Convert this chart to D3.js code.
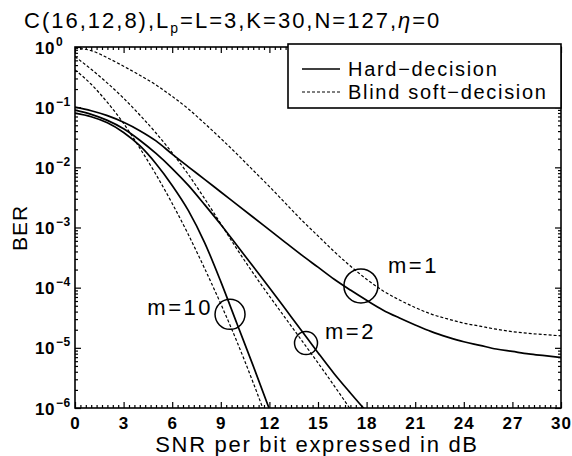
<!DOCTYPE html>
<html>
<head>
<meta charset="utf-8">
<script src="https://cdn.jsdelivr.net/npm/d3@7"></script>
<style>
  body { margin: 0; background: #fff; }
  svg { display: block; font-family: "Liberation Sans", Arial, sans-serif; }
</style>
</head>
<body>
<svg></svg>
<script>
var width = 572, height = 456;

// SNR per bit (dB)
var snr = d3.range(0, 31);

// BER
var hardM1 = [1.0e-1, 8.71e-2, 7.24e-2, 5.62e-2, 4.07e-2, 2.75e-2, 1.66e-2, 1.02e-2, 6.31e-3, 3.89e-3,
  2.40e-3, 1.48e-3, 9.12e-4, 5.62e-4, 3.47e-4, 2.19e-4, 1.38e-4, 9.12e-5, 6.17e-5, 4.27e-5,
  3.16e-5, 2.40e-5, 1.86e-5, 1.51e-5, 1.26e-5, 1.10e-5, 9.55e-6, 8.71e-6, 7.94e-6, 7.41e-6, 6.92e-6];
var softM1 = [0.955, 0.871, 0.661, 0.479, 0.339, 0.234, 0.151, 9.33e-2, 5.37e-2, 3.02e-2,
  1.66e-2, 8.91e-3, 4.79e-3, 2.51e-3, 1.32e-3, 7.24e-4, 3.98e-4, 2.29e-4, 1.38e-4, 8.91e-5,
  6.31e-5, 4.68e-5, 3.63e-5, 3.02e-5, 2.57e-5, 2.29e-5, 2.04e-5, 1.86e-5, 1.74e-5, 1.66e-5, 1.58e-5];
var hardM2 = [8.91e-2, 7.59e-2, 6.03e-2, 4.37e-2, 2.82e-2, 1.70e-2, 9.55e-3, 5.01e-3, 2.40e-3, 1.12e-3,
  5.01e-4, 2.24e-4, 1.0e-4, 4.37e-5, 1.91e-5, 8.32e-6, 3.72e-6, 1.78e-6, 8.71e-7];
var softM2 = [0.692, 0.427, 0.251, 0.141, 7.41e-2, 3.72e-2, 1.74e-2, 7.59e-3, 3.02e-3, 1.15e-3,
  4.37e-4, 1.74e-4, 7.24e-5, 3.09e-5, 1.32e-5, 5.62e-6, 2.34e-6, 9.55e-7];
var hardM10 = [7.94e-2, 6.92e-2, 5.50e-2, 3.80e-2, 2.29e-2, 1.15e-2, 5.01e-3, 1.91e-3, 5.62e-4, 1.26e-4,
  2.51e-5, 5.01e-6, 9.55e-7, 1.78e-7];
var softM10 = [0.417, 0.240, 0.120, 5.37e-2, 2.09e-2, 7.59e-3, 2.51e-3, 7.59e-4, 2.09e-4, 5.37e-5,
  1.26e-5, 2.63e-6, 5.01e-7];

var curves = [
  {name: "hard m=1", dashed: false, ber: hardM1},
  {name: "soft m=1", dashed: true, ber: softM1},
  {name: "hard m=2", dashed: false, ber: hardM2},
  {name: "soft m=2", dashed: true, ber: softM2},
  {name: "hard m=10", dashed: false, ber: hardM10},
  {name: "soft m=10", dashed: true, ber: softM10}
];

// circled groups: label, snr, ber, radius(px)
var markLabels = ["m=1", "m=2", "m=10"];
var markSnr = [17.65, 14.26, 9.57];
var markBer = [1.07e-4, 1.2e-5, 3.6e-5];
var markRadius = [17, 11.5, 15];

var xTicks = d3.range(0, 31, 3);
var yTicks = [1, 1e-1, 1e-2, 1e-3, 1e-4, 1e-5, 1e-6];
var legendLabels = ["Hard\u2212decision", "Blind soft\u2212decision"];
var title = "C(16,12,8),L";

var pLeft = 75, pRight = 561, pTop = 47, pBottom = 408;

var svg = d3.select("svg").attr("width", width).attr("height", height);

var x = d3.scaleLinear().domain([0, 30]).range([pLeft, pRight]);
var y = d3.scaleLog().domain([1e-6, 1]).range([pBottom, pTop]);

svg.append("clipPath").attr("id", "clip")
  .append("rect").attr("x", pLeft).attr("y", pTop)
  .attr("width", pRight - pLeft).attr("height", pBottom - pTop);

// minor ticks
var xMinor = d3.range(0, 30.01, 1 / 3).filter(function(d){ return Math.abs(d / 3 - Math.round(d / 3)) > 1e-6; });
var yMinor = [];
for (var e = -6; e < 0; e++) for (var k = 2; k < 10; k++) yMinor.push(k * Math.pow(10, e));

function plain(g) { g.select(".domain").remove(); g.selectAll("line").attr("stroke", "#000").attr("stroke-width", 1.2); }

svg.append("g").attr("transform", "translate(0," + pBottom + ")")
  .call(d3.axisBottom(x).tickValues(xMinor).tickSize(-3).tickFormat("")).call(plain);
svg.append("g").attr("transform", "translate(0," + pTop + ")")
  .call(d3.axisTop(x).tickValues(xMinor).tickSize(-3).tickFormat("")).call(plain);
svg.append("g").attr("transform", "translate(0," + pTop + ")")
  .call(d3.axisTop(x).tickValues(xTicks).tickSize(-6).tickFormat("")).call(plain);
svg.append("g").attr("transform", "translate(" + pLeft + ",0)")
  .call(d3.axisLeft(y).tickValues(yMinor).tickSize(-3).tickFormat("")).call(plain);
svg.append("g").attr("transform", "translate(" + pRight + ",0)")
  .call(d3.axisRight(y).tickValues(yMinor).tickSize(-3).tickFormat("")).call(plain);
svg.append("g").attr("transform", "translate(" + pRight + ",0)")
  .call(d3.axisRight(y).tickValues(yTicks).tickSize(-6).tickFormat("")).call(plain);

var xAxis = svg.append("g").attr("transform", "translate(0," + pBottom + ")")
  .call(d3.axisBottom(x).tickValues(xTicks).tickSize(-6).tickPadding(9).tickFormat(d3.format("d")))
  .call(plain);
xAxis.selectAll("text").attr("font-size", 17).attr("fill", "#000").attr("font-weight", "bold")
  .attr("font-family", "Liberation Sans, Arial, sans-serif").attr("letter-spacing", 1);

var yAxis = svg.append("g").attr("transform", "translate(" + pLeft + ",0)")
  .call(d3.axisLeft(y).tickValues(yTicks).tickSize(-6).tickFormat("")).call(plain);
yAxis.selectAll(".tick").append("text")
  .attr("x", -40).attr("y", 6).attr("text-anchor", "start").attr("fill", "#000")
  .attr("font-size", 17).attr("font-weight", "bold").attr("letter-spacing", 0.5)
  .each(function(d) {
    var t = d3.select(this);
    var ex = Math.round(Math.log10(d));
    t.append("tspan").text("10");
    t.append("tspan").attr("dy", -8).attr("dx", 1).attr("font-size", 12)
      .text(ex === 0 ? "0" : "\u2212" + Math.abs(ex));
  });

// frame
svg.append("rect").attr("x", pLeft).attr("y", pTop)
  .attr("width", pRight - pLeft).attr("height", pBottom - pTop)
  .attr("fill", "none").attr("stroke", "#000").attr("stroke-width", 1.6);

// curves
var line = d3.line()
  .x(function(d, i){ return x(snr[i]); })
  .y(function(d){ return y(d); })
  .curve(d3.curveMonotoneX);

svg.append("g").attr("clip-path", "url(#clip)")
  .selectAll("path").data(curves).enter().append("path")
  .attr("d", function(d){ return line(d.ber); })
  .attr("fill", "none").attr("stroke", "#000")
  .attr("stroke-width", function(d){ return d.dashed ? 1.2 : 1.7; })
  .attr("stroke-dasharray", function(d){ return d.dashed ? "3,2" : null; });

// circles and labels
var marks = svg.append("g");
marks.selectAll("circle").data(markSnr).enter().append("circle")
  .attr("cx", function(d){ return x(d); })
  .attr("cy", function(d, i){ return y(markBer[i]); })
  .attr("r", function(d, i){ return markRadius[i]; })
  .attr("fill", "none").attr("stroke", "#000").attr("stroke-width", 1.5);

var labelPos = [[388, 273, "start"], [325, 339, "start"], [213, 315, "end"]];
marks.selectAll("text").data(markLabels).enter().append("text")
  .attr("x", function(d, i){ return labelPos[i][0]; })
  .attr("y", function(d, i){ return labelPos[i][1]; })
  .attr("text-anchor", function(d, i){ return labelPos[i][2]; })
  .attr("font-size", 22).attr("letter-spacing", 2.5)
  .text(function(d){ return d; });

// legend
var legend = svg.append("g");
legend.append("rect").attr("x", 288).attr("y", 44).attr("width", pRight - 288).attr("height", 64)
  .attr("fill", "#fff").attr("stroke", "#000").attr("stroke-width", 1.6);
legendLabels.forEach(function(lab, i) {
  var ly = 69 + i * 23;
  legend.append("line").attr("x1", 302).attr("x2", 340).attr("y1", ly).attr("y2", ly)
    .attr("stroke", "#000").attr("stroke-width", i ? 1.2 : 1.6)
    .attr("stroke-dasharray", i ? "3,2" : null);
  legend.append("text").attr("x", 348).attr("y", ly + 7)
    .attr("font-size", 20).attr("letter-spacing", 1.7).text(lab);
});

// title
var tt = svg.append("text").attr("x", 24).attr("y", 28).attr("font-size", 22).attr("letter-spacing", 2);
tt.append("tspan").text(title);
tt.append("tspan").attr("font-size", 14).attr("dy", 5).text("p");
tt.append("tspan").attr("dy", -5).text("=L=3,K=30,N=127,");
tt.append("tspan").attr("font-style", "italic").text("\u03b7");
tt.append("tspan").text("=0");

// axis titles
svg.append("text").attr("x", 317).attr("y", 452).attr("text-anchor", "middle")
  .attr("font-size", 22).attr("letter-spacing", 1.7).text("SNR per bit expressed in dB");
svg.append("text").attr("transform", "translate(27,228) rotate(-90)").attr("text-anchor", "middle")
  .attr("font-size", 21).attr("letter-spacing", 1).text("BER");
</script>
</body>
</html>
